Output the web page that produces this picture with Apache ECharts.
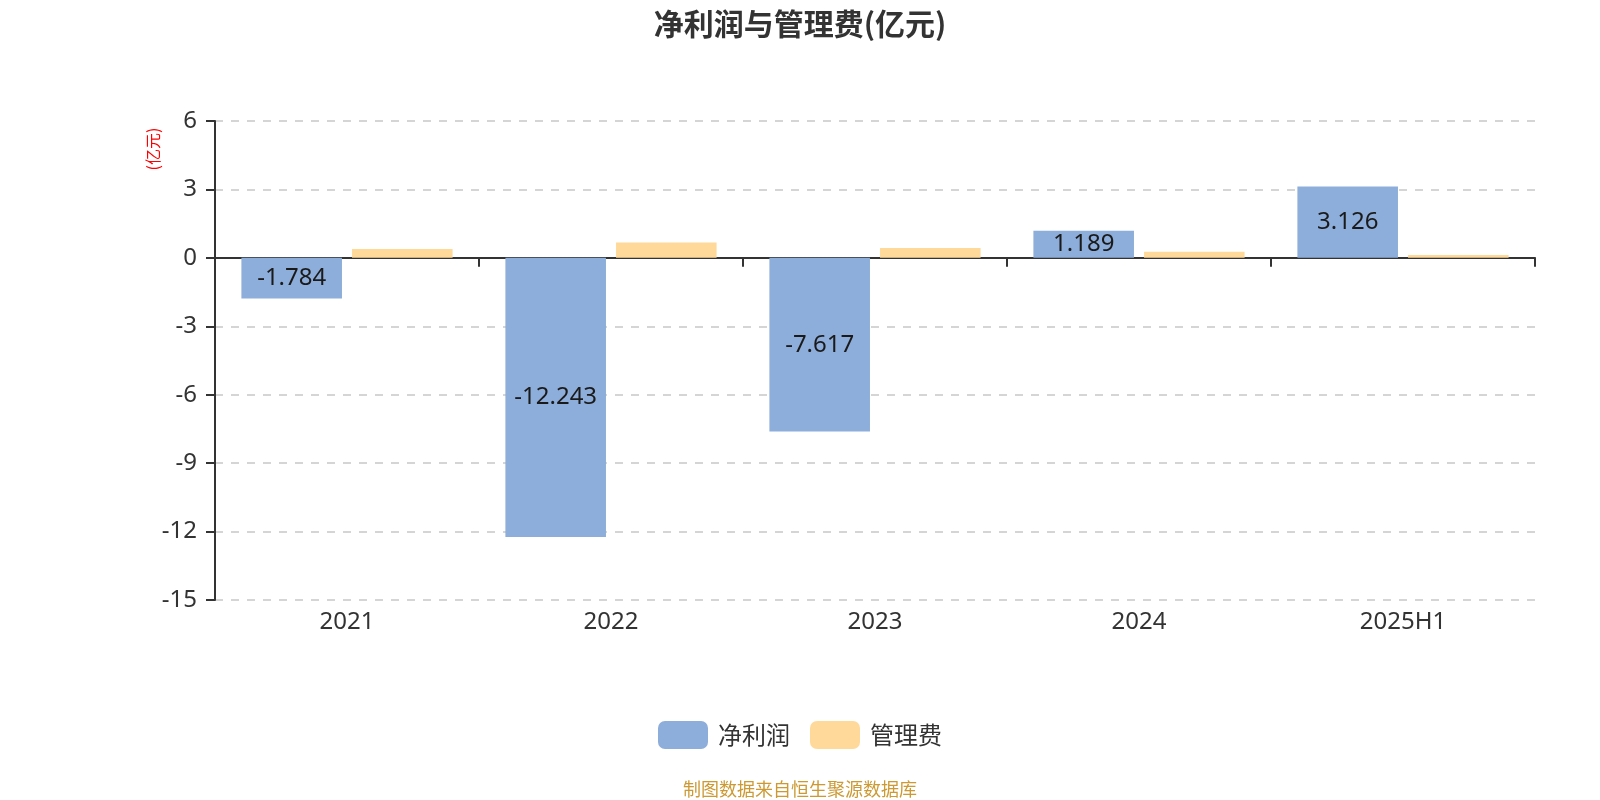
<!DOCTYPE html>
<html><head><meta charset="utf-8">
<script src="https://cdn.jsdelivr.net/npm/echarts@6/dist/echarts.min.js"></script>
<style>html,body{margin:0;padding:0;background:#fff}#c{width:1600px;height:800px}</style>
</head><body><div id="c"></div>
<script>
const categories = ['2021', '2022', '2023', '2024', '2025H1'];
const netProfit = [-1.784, -12.243, -7.617, 1.189, 3.126];
const mgmtFee = [0.39, 0.67, 0.43, 0.27, 0.12];
const yTicks = { min: -15, max: 6, interval: 3 };
const FONT = '"Noto Sans CJK SC", "Noto Sans", sans-serif';
const NUMFONT = '"Noto Sans", "Noto Sans CJK SC", sans-serif';

const chart = echarts.init(document.getElementById('c'));
chart.setOption({
  animation: false,
  textStyle: { fontFamily: FONT },
  title: {
    text: '净利润与管理费(亿元)', left: 'center', top: 4,
    textStyle: { fontSize: 30, fontWeight: 'bold', color: '#333', fontFamily: FONT }
  },
  graphic: [
    { type: 'text', x: 153, y: 149, rotation: Math.PI / 2,
      style: { text: '(亿元)', fill: '#ff0000', fontSize: 16, fontFamily: FONT, align: 'center', verticalAlign: 'middle' } },
    { type: 'text', x: 800, y: 789,
      style: { text: '制图数据来自恒生聚源数据库', fill: '#cc9933', fontSize: 18, fontFamily: FONT, align: 'center', verticalAlign: 'middle' } }
  ],
  legend: {
    data: ['净利润', '管理费'], left: 'center', top: 716,
    itemWidth: 50, itemHeight: 28, itemGap: 20,
    textStyle: { fontSize: 24, color: '#333', padding: [0, 0, 0, 5], fontFamily: FONT }
  },
  grid: { left: 215, right: 65, top: 121, bottom: 200 },
  xAxis: [
    { type: 'category', data: categories, position: 'bottom',
      axisLine: { show: false, onZero: false }, axisTick: { show: false },
      axisLabel: { fontSize: 24, color: '#333', margin: 10, fontFamily: NUMFONT } },
    { type: 'category', data: categories, position: 'top',
      axisLine: { show: true, onZero: true, lineStyle: { color: '#333', width: 2 } },
      axisTick: { show: true, inside: true, length: 9, lineStyle: { color: '#333', width: 2 } },
      axisLabel: { show: false } }
  ],
  yAxis: {
    type: 'value', min: yTicks.min, max: yTicks.max, interval: yTicks.interval,
    axisLine: { show: true, lineStyle: { color: '#333', width: 2 } },
    axisTick: { show: true, length: 9, lineStyle: { color: '#333', width: 2 } },
    axisLabel: { fontSize: 24, color: '#333', margin: 18, fontFamily: NUMFONT },
    splitLine: { show: true, lineStyle: { type: [8, 8], color: '#c8c8c8', width: 1.5 } }
  },
  series: [
    { name: '净利润', type: 'bar', data: netProfit, barGap: '10%', barCategoryGap: '20%',
      itemStyle: { color: '#8DADDA' },
      label: { show: true, position: 'inside', fontSize: 24, color: '#1a1a1a', fontFamily: NUMFONT } },
    { name: '管理费', type: 'bar', data: mgmtFee,
      itemStyle: { color: '#FFD999' } }
  ]
});
</script></body></html>
